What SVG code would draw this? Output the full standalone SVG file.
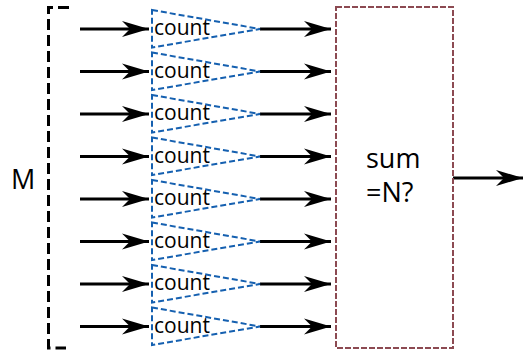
<svg xmlns="http://www.w3.org/2000/svg" width="529" height="351" viewBox="0 0 529 351">
  <style>
    .lbl { font-family: "Open Sans", "Noto Sans", sans-serif; fill: #000; }
    .small { font-size: 21px; }
    .big { font-size: 27px; }
    .wire { stroke: #000; stroke-width: 3; fill: none; marker-end: url(#head); }
    .tri { fill: #fff; stroke: #1560b0; stroke-width: 2; stroke-dasharray: 6 3; }
    .box { fill: #fff; stroke: #8c4a52; stroke-width: 2; stroke-dasharray: 6 2; }
    .brace { fill: none; stroke: #000; stroke-width: 3; stroke-dasharray: 11 5; }
  </style>
  <defs>
    <marker id="head" markerUnits="userSpaceOnUse" markerWidth="30" markerHeight="20" viewBox="-28 -9 30 18" refX="0" refY="0" orient="auto">
      <path d="M0,0 L-27,-8 L-19,0 L-27,8 Z" fill="#000"/>
    </marker>
  </defs>

  <!-- bracket spanning the M inputs -->
  <g id="bracket">
    <path class="brace" d="M69,7.5 H48.5 V348 H66"/>
    <text class="lbl big" x="11" y="189">M</text>
  </g>

  <g id="connectors">
    <line class="wire" x1="80" y1="29" x2="149" y2="29"/>
    <line class="wire" x1="80" y1="71.5" x2="149" y2="71.5"/>
    <line class="wire" x1="80" y1="114" x2="149" y2="114"/>
    <line class="wire" x1="80" y1="156.5" x2="149" y2="156.5"/>
    <line class="wire" x1="80" y1="199" x2="149" y2="199"/>
    <line class="wire" x1="80" y1="241.5" x2="149" y2="241.5"/>
    <line class="wire" x1="80" y1="284" x2="149" y2="284"/>
    <line class="wire" x1="80" y1="326.5" x2="149" y2="326.5"/>

    <line class="wire" x1="260" y1="29" x2="331" y2="29"/>
    <line class="wire" x1="260" y1="71.5" x2="331" y2="71.5"/>
    <line class="wire" x1="260" y1="114" x2="331" y2="114"/>
    <line class="wire" x1="260" y1="156.5" x2="331" y2="156.5"/>
    <line class="wire" x1="260" y1="199" x2="331" y2="199"/>
    <line class="wire" x1="260" y1="241.5" x2="331" y2="241.5"/>
    <line class="wire" x1="260" y1="284" x2="331" y2="284"/>
    <line class="wire" x1="260" y1="326.5" x2="331" y2="326.5"/>

    <line class="wire" x1="453" y1="178" x2="523" y2="178"/>
  </g>

  <!-- counters -->
  <g id="count1" transform="translate(0,29)">
    <path class="tri" d="M152,-19 L260,0 L152,18.5 Z"/>
    <text class="lbl small" x="154" y="6">count</text>
  </g>
  <g id="count2" transform="translate(0,71.5)">
    <path class="tri" d="M152,-19 L260,0 L152,18.5 Z"/>
    <text class="lbl small" x="154" y="6">count</text>
  </g>
  <g id="count3" transform="translate(0,114)">
    <path class="tri" d="M152,-19 L260,0 L152,18.5 Z"/>
    <text class="lbl small" x="154" y="6">count</text>
  </g>
  <g id="count4" transform="translate(0,156.5)">
    <path class="tri" d="M152,-19 L260,0 L152,18.5 Z"/>
    <text class="lbl small" x="154" y="6">count</text>
  </g>
  <g id="count5" transform="translate(0,199)">
    <path class="tri" d="M152,-19 L260,0 L152,18.5 Z"/>
    <text class="lbl small" x="154" y="6">count</text>
  </g>
  <g id="count6" transform="translate(0,241.5)">
    <path class="tri" d="M152,-19 L260,0 L152,18.5 Z"/>
    <text class="lbl small" x="154" y="6">count</text>
  </g>
  <g id="count7" transform="translate(0,284)">
    <path class="tri" d="M152,-19 L260,0 L152,18.5 Z"/>
    <text class="lbl small" x="154" y="6">count</text>
  </g>
  <g id="count8" transform="translate(0,326.5)">
    <path class="tri" d="M152,-19 L260,0 L152,18.5 Z"/>
    <text class="lbl small" x="154" y="6">count</text>
  </g>

  <!-- summing comparator -->
  <g id="sum">
    <rect class="box" x="336" y="7" width="117" height="341"/>
    <text class="lbl big" x="366" y="168">sum</text>
    <text class="lbl big" x="366" y="201.5">=N?</text>
  </g>
</svg>
